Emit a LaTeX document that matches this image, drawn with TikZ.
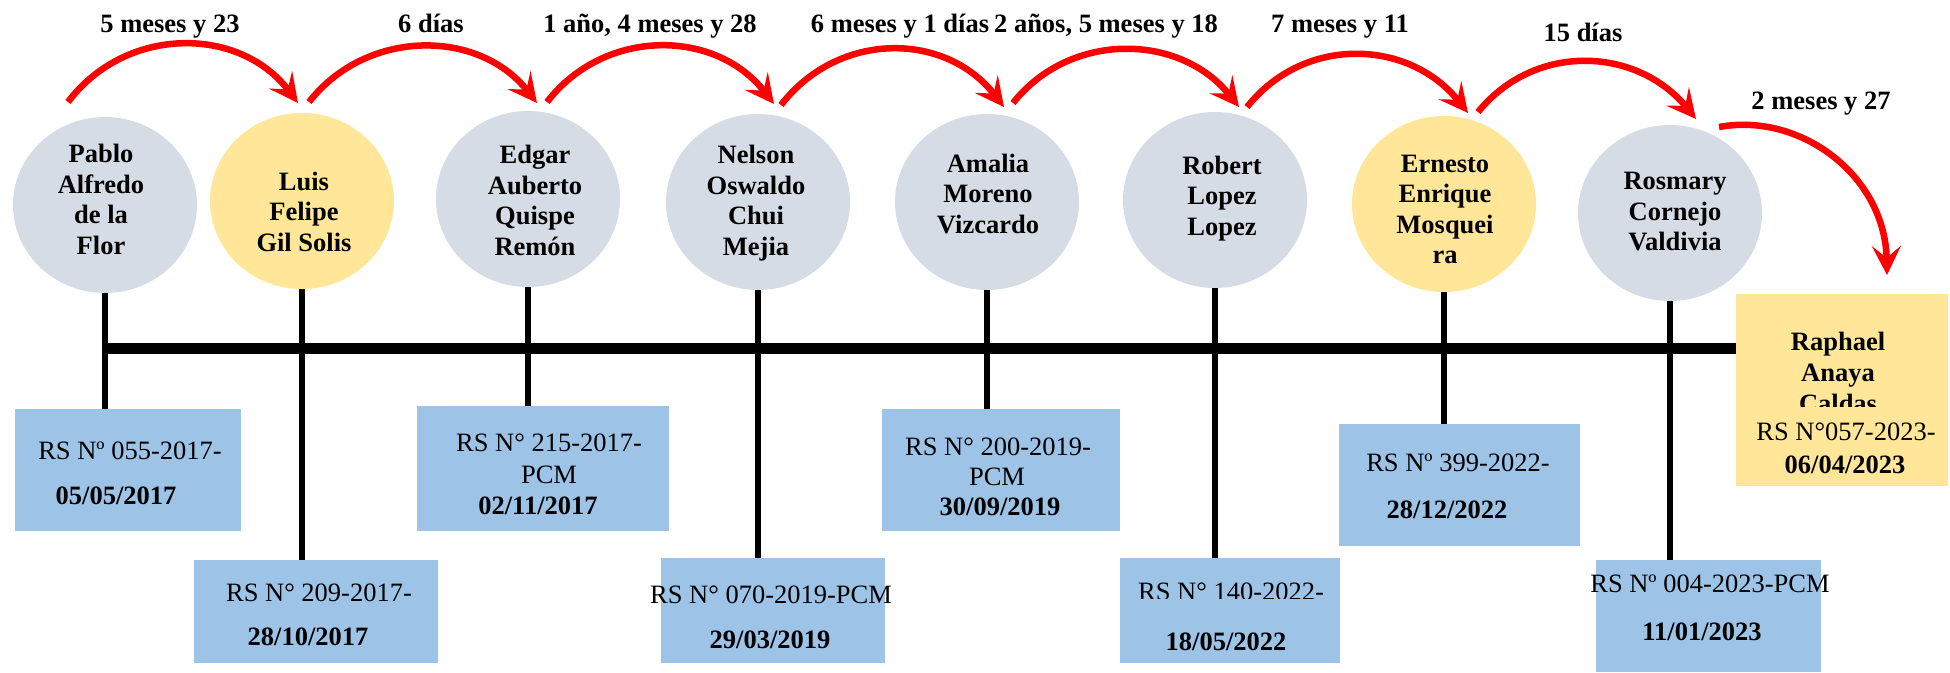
\documentclass[tikz,border=0pt]{standalone}
\usepackage{fontspec}
\setmainfont{Liberation Serif}
\usetikzlibrary{shapes.geometric,arrows.meta}
\definecolor{elgray}{HTML}{D6DCE5}
\definecolor{elyel}{HTML}{FFE699}
\definecolor{boxblue}{HTML}{9DC3E6}
\definecolor{arred}{HTML}{FF0000}
\begin{document}
\begin{tikzpicture}[x=1pt,y=-1pt,
  ell/.style={ellipse,minimum width=184pt,minimum height=176pt,inner sep=0pt},
  grayell/.style={ell,fill=elgray},
  yelell/.style={ell,fill=elyel},
  namet/.style={font=\bfseries\fontsize{26.5}{30.5}\selectfont,align=center,inner sep=0pt,
    execute at begin node=\strut,execute at end node=\strut},
  docbox/.style={rectangle,fill=boxblue,inner sep=0pt},
  regt/.style={font=\fontsize{26.5}{30.5}\selectfont,inner sep=0pt,anchor=base},
  bldt/.style={regt,font=\bfseries\fontsize{26.5}{30.5}\selectfont},
  stemline/.style={line width=6pt},
  tline/.style={line width=11pt},
  jump/.style={draw=arred,line width=6.5pt,-{Stealth[length=29pt,width=29pt,inset=12pt]}},
]
\useasboundingbox (0,0) rectangle (1950,672);

% ellipses
\node[grayell] (p1) at (105,205) {};
\node[yelell]  (p2) at (302,201) {};
\node[grayell] (p3) at (528,199) {};
\node[grayell] (p4) at (758,202) {};
\node[grayell] (p5) at (987,202) {};
\node[grayell] (p6) at (1215,200) {};
\node[yelell]  (p7) at (1444,204) {};
\node[grayell] (p8) at (1670,213) {};

% boxes
\node[docbox,minimum width=226pt,minimum height=122pt] (b1) at (128,470) {};
\node[docbox,minimum width=244pt,minimum height=103pt] (b2) at (316,611.5) {};
\node[docbox,minimum width=252pt,minimum height=125pt] (b3) at (543,468.5) {};
\node[docbox,minimum width=224pt,minimum height=105pt] (b4) at (773,610.5) {};
\node[docbox,minimum width=238pt,minimum height=122pt] (b5) at (1001,470) {};
\node[docbox,minimum width=220pt,minimum height=105pt] (b6) at (1230,610.5) {};
\node[docbox,minimum width=241pt,minimum height=122pt] (b7) at (1459.5,485) {};
\node[docbox,minimum width=225pt,minimum height=112pt] (b8) at (1708.5,616) {};
\node[rectangle,fill=elyel,inner sep=0pt,minimum width=212pt,minimum height=192pt] (b9) at (1842,390) {};

% stems
\foreach \i in {1,...,8} \draw[stemline] (p\i.south) -- (p\i.south |- b\i.north);

% timeline
\coordinate (t0) at (102,348.5);
\draw[tline] (t0) -- (t0 -| b9.west);

% names
\node[namet] (n1) at (101,204) {Pablo\\Alfredo\\de la\\Flor};
\node[namet] (n2) at (304,216) {Luis\\Felipe\\Gil Solis};
\node[namet] (n3) at (535,205) {Edgar\\Auberto\\Quispe\\Remón};
\node[namet] (n4) at (756,205) {Nelson\\Oswaldo\\Chui\\Mejia};
\node[namet] (n5) at (988,198) {Amalia\\Moreno\\Vizcardo};
\node[namet] (n6) at (1222,200) {Robert\\Lopez\\Lopez};
\node[namet] (n7) at (1445,214) {Ernesto\\Enrique\\Mosquei\\ra};
\node[namet] (n8) at (1675,216) {Rosmary\\Cornejo\\Valdivia};

% box texts
\node[regt] (r1a) at (130,459.8) {RS Nº 055-2017-};
\node[bldt] (r1b) at (116,504.8) {05/05/2017};
\node[regt] (r2a) at (319,601.8) {RS N° 209-2017-};
\node[bldt] (r2b) at (308,645.8) {28/10/2017};
\node[regt] (r3a) at (549,451.8) {RS N° 215-2017-};
\node[regt] (r3b) at (549,483.8) {PCM};
\node[bldt] (r3c) at (538,514.8) {02/11/2017};
\node[regt] (r4a) at (771,603.8) {RS N° 070-2019-PCM};
\node[bldt] (r4b) at (770,648.8) {29/03/2019};
\node[regt] (r5a) at (998,455.8) {RS N° 200-2019-};
\node[regt] (r5b) at (997,485.8) {PCM};
\node[bldt] (r5c) at (1000,515.8) {30/09/2019};
\begin{scope}
  \clip (1120,558) rectangle (1340,598);
  \node[regt] (r6a) at (1231,600.5) {RS N° 140-2022-};
\end{scope}
\node[bldt] (r6b) at (1226,650.8) {18/05/2022};
\node[regt] (r7a) at (1458,471.8) {RS Nº 399-2022-};
\node[bldt] (r7b) at (1447,518.8) {28/12/2022};
\node[regt] (r8a) at (1710,592.8) {RS Nº 004-2023-PCM};
\node[bldt] (r8b) at (1702,640.8) {11/01/2023};
\begin{scope}
  \clip (1736,294) rectangle (1948,406);
  \node[bldt] (r9a) at (1838,350.8) {Raphael};
  \node[bldt] (r9b) at (1838,381.8) {Anaya};
  \node[bldt] (r9c) at (1838,412.3) {Caldas};
\end{scope}
\node[regt] (r9d) at (1846,440.8) {RS N°057-2023-};
\node[bldt] (r9e) at (1845,473.8) {06/04/2023};

% arrow labels
\node[bldt] (l1) at (170,32.5) {5 meses y 23};
\node[bldt] (l2) at (431,32.5) {6 días};
\node[bldt] (l3) at (650,32.5) {1 año, 4 meses y 28};
\node[bldt] (l4) at (900,32.5) {6 meses y 1 días};
\node[bldt] (l5) at (1106,32.5) {2 años, 5 meses y 18};
\node[bldt] (l6) at (1340,32.5) {7 meses y 11};
\node[bldt] (l7) at (1583,41) {15 días};
\node[bldt] (l8) at (1821,109.5) {2 meses y 27};

% arrows
\coordinate (s1) at (68,102);   \coordinate (e1) at (298,103);
\coordinate (s2) at (309,102);  \coordinate (e2) at (537,103);
\coordinate (s3) at (547,102);  \coordinate (e3) at (774,104);
\coordinate (s4) at (781,105);  \coordinate (e4) at (1004,107);
\coordinate (s5) at (1013,103); \coordinate (e5) at (1239,107);
\coordinate (s6) at (1247,107); \coordinate (e6) at (1468,113);
\coordinate (s7) at (1478,112); \coordinate (e7) at (1696,119);
\coordinate (s8) at (1719,127); \coordinate (e8) at (1887,275);
\draw[jump] (s1) .. controls (126,25) and (240,26) .. (e1);
\draw[jump] (s2) .. controls (367,28) and (479,29) .. (e2);
\draw[jump] (s3) .. controls (605,27) and (716,29) .. (e3);
\draw[jump] (s4) .. controls (839,30) and (946,32) .. (e4);
\draw[jump] (s5) .. controls (1071,30) and (1181,34) .. (e5);
\draw[jump] (s6) .. controls (1305,34) and (1410,40) .. (e6);
\draw[jump] (s7) .. controls (1536,41) and (1638,48) .. (e7);
\draw[jump] (s8) .. controls (1800,112) and (1885,175) .. (e8);
\end{tikzpicture}
\end{document}
